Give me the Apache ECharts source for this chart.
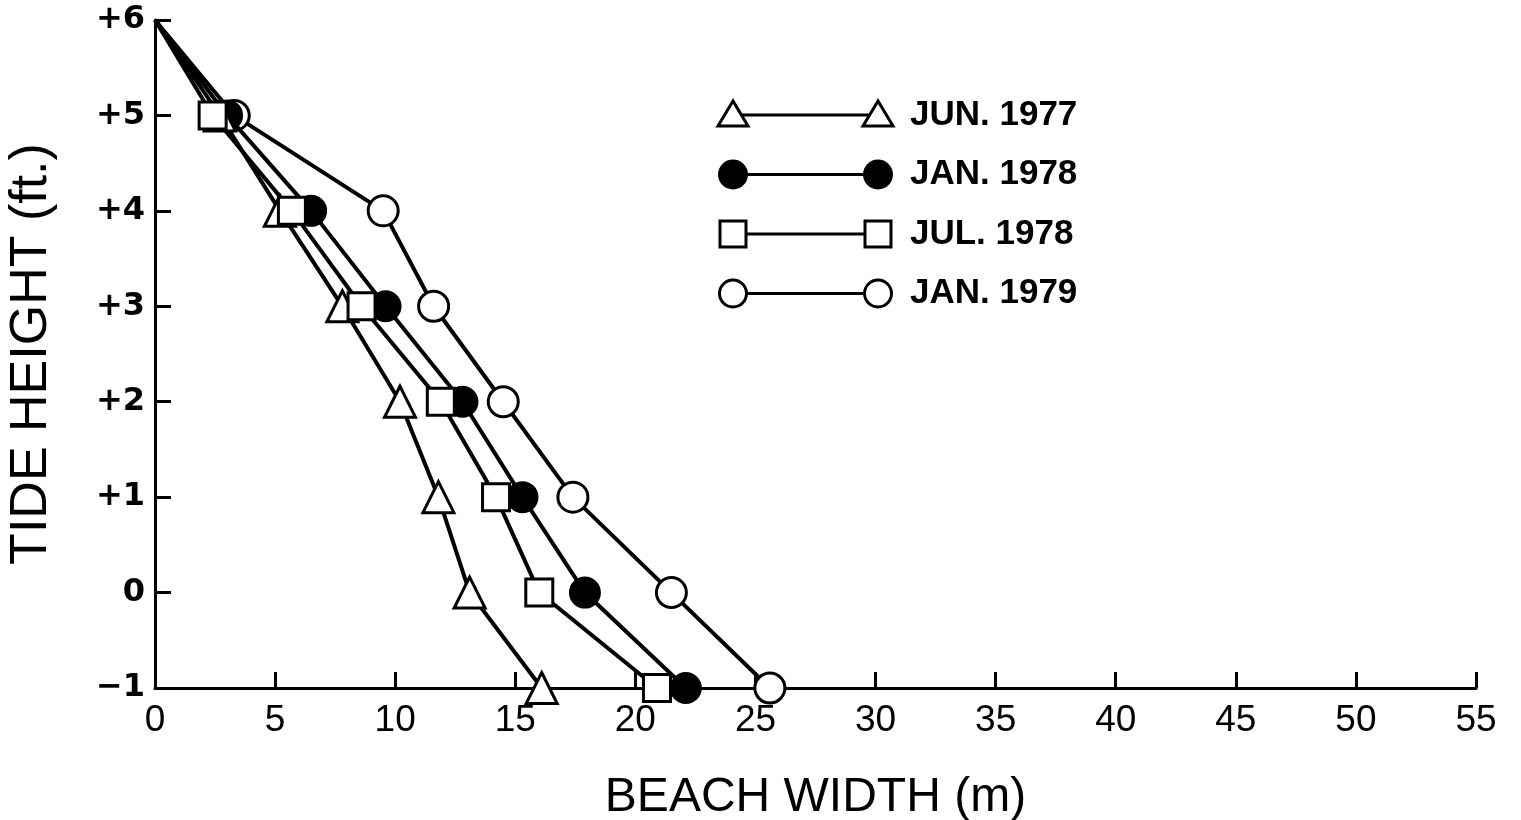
<!DOCTYPE html>
<html>
<head>
<meta charset="utf-8">
<script src="https://cdn.jsdelivr.net/npm/echarts@6/dist/echarts.min.js"></script>
<style>
  html, body { margin: 0; padding: 0; background: #fff; }
  #chart { width: 1521px; height: 820px; }
</style>
</head>
<body>
<div id="chart"></div>
<script>
// Tide heights (ft) at which beach width was surveyed
const tideHeights = [6, 5, 4, 3, 2, 1, 0, -1];

// Beach width (m) at each tide height, per survey
const jun1977 = [0, 2.7, 5.2, 7.8, 10.2, 11.8, 13.1, 16.1];
const jan1978 = [0, 3.0, 6.5, 9.6, 12.8, 15.3, 17.9, 22.1];
const jul1978 = [0, 2.4, 5.7, 8.6, 11.9, 14.2, 16.0, 20.9];
const jan1979 = [0, 3.3, 9.5, 11.6, 14.5, 17.4, 21.5, 25.6];

const seriesNames = ['JUN. 1977', 'JAN. 1978', 'JUL. 1978', 'JAN. 1979'];

const FONT = '"Liberation Sans", Arial, sans-serif';
const WIDE_FONT = '"DejaVu Sans", sans-serif';
const INK = '#000';

const chart = echarts.init(document.getElementById('chart'), null, { renderer: 'canvas' });

// Pair widths with heights; the shoreline origin point carries no marker
function points(widths) {
  return widths.map((w, i) => i === 0
    ? { value: [w, tideHeights[i]], symbol: 'none' }
    : [w, tideHeights[i]]);
}

const markerStyle = {
  triangle: { symbol: 'triangle', symbolSize: 31, fill: '#fff' },
  filled:   { symbol: 'circle',   symbolSize: 29, fill: INK },
  square:   { symbol: 'rect',     symbolSize: 27, fill: '#fff' },
  open:     { symbol: 'circle',   symbolSize: 30, fill: '#fff' }
};

function lineSeries(name, widths, m, z) {
  return {
    name: name,
    type: 'line',
    data: points(widths),
    symbol: m.symbol,
    symbolSize: m.symbolSize,
    z: z,
    lineStyle: { color: INK, width: 4 },
    itemStyle: { color: m.fill, borderColor: INK, borderWidth: 3 },
    emphasis: { disabled: true },
    animation: false
  };
}

// Legend drawn as marker — line — marker, then the survey date
const legendRows = [
  { name: seriesNames[0], kind: 'triangle' },
  { name: seriesNames[1], kind: 'filled' },
  { name: seriesNames[2], kind: 'square' },
  { name: seriesNames[3], kind: 'open' }
];
const LX1 = 733, LX2 = 878, LTX = 910, LY0 = 115, LDY = 59.5;

function legendMarker(kind, cx, cy) {
  const stroke = { stroke: INK, lineWidth: 3 };
  if (kind === 'triangle') {
    return { type: 'polygon', shape: { points: [[cx, cy - 14], [cx - 15, cy + 11], [cx + 15, cy + 11]] },
             style: Object.assign({ fill: '#fff' }, stroke), z: 10 };
  }
  if (kind === 'square') {
    return { type: 'rect', shape: { x: cx - 13, y: cy - 13, width: 26, height: 26 },
             style: Object.assign({ fill: '#fff' }, stroke), z: 10 };
  }
  return { type: 'circle', shape: { cx: cx, cy: cy, r: 13.5 },
           style: Object.assign({ fill: kind === 'filled' ? INK : '#fff' }, stroke), z: 10 };
}

const legendGraphics = [];
legendRows.forEach((row, i) => {
  const y = LY0 + i * LDY;
  legendGraphics.push({ type: 'line', shape: { x1: LX1, y1: y, x2: LX2, y2: y },
                        style: { stroke: INK, lineWidth: 3 }, z: 9 });
  legendGraphics.push(legendMarker(row.kind, LX1, y));
  legendGraphics.push(legendMarker(row.kind, LX2, y));
  legendGraphics.push({ type: 'text', x: LTX, y: y, z: 10,
    style: { text: row.name, font: 'bold 35px ' + FONT, fill: INK, textVerticalAlign: 'middle', verticalAlign: 'middle' } });
});

const option = {
  backgroundColor: '#fff',
  animation: false,
  grid: { left: 155, right: 45, top: 20, bottom: 132, containLabel: false, outerBoundsMode: 'none' },
  xAxis: {
    type: 'value',
    min: 0, max: 55, interval: 5,
    name: 'BEACH WIDTH (m)',
    nameLocation: 'middle',
    nameGap: 86,
    nameTextStyle: { fontFamily: FONT, fontSize: 48, color: INK },
    axisLine: { show: true, onZero: false, lineStyle: { color: INK, width: 3 } },
    axisTick: { show: true, inside: true, length: 16, lineStyle: { color: INK, width: 3 } },
    axisLabel: { fontFamily: FONT, fontSize: 37, color: INK, margin: 14 },
    splitLine: { show: false }
  },
  yAxis: {
    type: 'value',
    min: -1, max: 6, interval: 1,
    name: 'TIDE HEIGHT (ft.)',
    nameLocation: 'middle',
    nameGap: 97,
    nameRotate: 90,
    nameTextStyle: { fontFamily: FONT, fontSize: 52, color: INK },
    axisLine: { show: true, onZero: false, lineStyle: { color: INK, width: 3 } },
    axisTick: { show: true, inside: true, length: 16, lineStyle: { color: INK, width: 3 } },
    axisLabel: {
      fontFamily: WIDE_FONT, fontSize: 32, fontWeight: 'bold', color: INK, margin: 10,
      formatter: v => v > 0 ? '+' + v : (v < 0 ? '\u2212' + Math.abs(v) : String(v))
    },
    splitLine: { show: false }
  },
  series: [
    lineSeries(seriesNames[3], jan1979, markerStyle.open, 2),
    lineSeries(seriesNames[1], jan1978, markerStyle.filled, 3),
    lineSeries(seriesNames[0], jun1977, markerStyle.triangle, 4),
    lineSeries(seriesNames[2], jul1978, markerStyle.square, 5)
  ],
  graphic: legendGraphics
};

chart.setOption(option);
</script>
</body>
</html>
